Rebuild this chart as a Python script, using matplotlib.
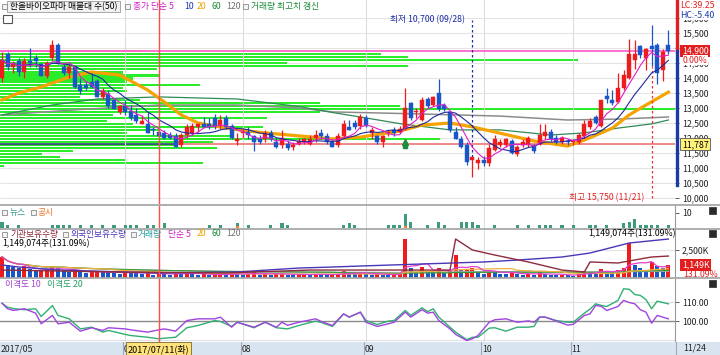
import numpy as np
import pandas as pd
import matplotlib
matplotlib.use('Agg')
import matplotlib.pyplot as plt
from matplotlib.patches import Rectangle
from matplotlib.transforms import blended_transform_factory as btf

plt.rcParams['font.family'] = ['Noto Sans CJK KR', 'DejaVu Sans']

# ---------------- data ----------------
opens = [14000, 14800, 14350, 14550, 14200, 14550, 14650, 14450, 14050, 14650,
         15100, 14350, 14150, 14350, 13750, 13750, 13850, 13900, 13350, 13450,
         13250, 12850, 13050, 12900, 12750, 12450, 12450, 12300, 12200, 12150,
         12100, 12050, 11750, 12100, 12150, 12350, 12450, 12450, 12650, 12400,
         12650, 12400, 11900, 12150, 12200, 12050, 11950, 11950, 12150, 11850,
         11750, 11800, 11700, 11800, 11850, 11800, 12000, 12150, 12050, 11850,
         11750, 12050, 12350, 12500, 12400, 12650, 12150, 12050, 11850, 12150,
         12250, 12200, 12300, 13150, 12850, 12600, 13300, 13100, 13500, 13100,
         12850, 12200, 11950, 11750, 11250, 11150, 11250, 11150, 11600, 11750,
         11750, 11900, 11450, 11750, 11750, 11750, 11800, 12050, 12200, 12000,
         11850, 11900, 11850, 11850, 12050, 12350, 12700, 12400, 13400, 13250,
         13200, 13650, 14000, 14600, 15050, 14650, 15050, 15100, 14250, 15100]
highs = [14850, 14850, 14550, 14650, 14650, 15000, 14750, 14500, 14550, 15250,
         15150, 14450, 14450, 14400, 14000, 13900, 14150, 13950, 13650, 13600,
         13300, 13100, 13250, 13100, 13000, 12750, 12850, 12350, 12400, 12250,
         12200, 12150, 12150, 12450, 12500, 12500, 12700, 12650, 12800, 12750,
         12750, 12450, 12150, 12300, 12350, 12100, 12100, 12250, 12250, 12000,
         12250, 11900, 11850, 12000, 12000, 12100, 12250, 12300, 12150, 11950,
         12150, 12600, 12600, 12600, 12800, 12750, 12350, 12100, 12100, 12250,
         12350, 12400, 13650, 13200, 13000, 13350, 13350, 13400, 13950, 13150,
         12900, 12350, 12050, 11850, 11350, 11350, 11400, 11800, 12100, 11950,
         12000, 11950, 11750, 11950, 12050, 11800, 12450, 12450, 12300, 12100,
         12050, 11950, 11950, 12150, 12600, 12650, 12750, 13250, 13650, 13600,
         14150, 14250, 15300, 15250, 15100, 15000, 15750, 15150, 14950, 15600]
lows = [13850, 14250, 14150, 14050, 14000, 14350, 14350, 14050, 14000, 14600,
        14450, 14100, 14000, 13650, 13450, 13600, 13650, 13350, 13300, 13000,
        12950, 12800, 12750, 12600, 12500, 12450, 12150, 12100, 12000, 11950,
        11950, 11700, 11700, 12000, 12100, 12200, 12350, 12300, 12300, 12300,
        12300, 11950, 11750, 12000, 11950, 11550, 11800, 11850, 11900, 11650,
        11650, 11600, 11600, 11750, 11800, 11750, 11850, 11950, 11800, 11700,
        11700, 12000, 12250, 12300, 12300, 12350, 11950, 11800, 11700, 12050,
        12050, 12150, 12250, 12600, 12650, 12550, 13000, 13050, 12900, 12900,
        12200, 11950, 11650, 11100, 10700, 10950, 11050, 11050, 11550, 11700,
        11700, 11450, 11400, 11700, 11700, 11500, 11750, 11950, 11900, 11800,
        11800, 11750, 11750, 11800, 12000, 12300, 12450, 12350, 13150, 13100,
        13150, 13600, 13950, 14300, 14650, 14250, 14400, 13800, 13900, 14800]
closes = [14600, 14350, 14500, 14200, 14550, 14500, 14550, 14050, 14500, 15100,
          14500, 14150, 14350, 13700, 13550, 13650, 13700, 13350, 13550, 13050,
          12950, 13050, 12850, 12650, 12550, 12550, 12150, 12250, 12050, 12000,
          12000, 11700, 12100, 12350, 12400, 12450, 12350, 12350, 12400, 12600,
          12350, 12000, 11950, 12200, 12100, 11850, 11850, 12150, 11950, 11700,
          12000, 11650, 11750, 11900, 11950, 11950, 12100, 12050, 11850, 11700,
          12050, 12450, 12250, 12350, 12700, 12400, 12250, 11850, 12050, 12200,
          12150, 12300, 13000, 12650, 12900, 13250, 13050, 13350, 12950, 12950,
          12250, 11950, 11700, 11200, 11350, 11250, 11150, 11650, 11950, 11850,
          11950, 11500, 11700, 11850, 12000, 11550, 12100, 12200, 11950, 11850,
          12000, 11850, 11900, 12100, 12450, 12550, 12500, 13250, 13300, 13150,
          13650, 14100, 14800, 14800, 14750, 14950, 14950, 14150, 14850, 14900]
volumes = [1900, 1150, 1000, 900, 1050, 800, 650, 700, 800, 1050,
           900, 600, 550, 700, 650, 450, 500, 600, 550, 500,
           450, 400, 550, 500, 450, 350, 500, 300, 400, 350,
           300, 450, 400, 500, 350, 300, 350, 250, 300, 350,
           300, 450, 400, 300, 350, 550, 300, 400, 300, 350,
           450, 300, 250, 300, 350, 300, 400, 300, 250, 300,
           350, 650, 400, 350, 500, 400, 300, 350, 300, 250,
           300, 350, 3480, 900, 500, 950, 600, 500, 900, 450,
           700, 2050, 700, 800, 900, 500, 400, 700, 600, 400,
           350, 500, 400, 300, 350, 300, 500, 350, 300, 250,
           300, 250, 200, 400, 650, 500, 450, 800, 600, 500,
           750, 900, 3125, 1160, 890, 700, 1430, 1070, 876.55, 1149.074]

# moving averages of close (index, price)
ma20_idx = [0, 3, 7, 12, 16, 21, 23, 26, 29, 32, 35, 41, 47, 53, 59, 64, 71, 75,
            80, 84, 88, 95, 101, 104, 109, 112, 115, 119]
ma20_val = [13270, 13500, 13700, 14030, 14200, 14100, 13900, 13600, 13200, 12770,
            12500, 12300, 12170, 12070, 11970, 12030, 12230, 12430, 12500, 12370,
            12200, 11900, 11730, 11930, 12330, 12770, 13100, 13530]
ma60_idx = [0, 9, 17, 28, 42, 53, 59, 64, 71, 80, 89, 98, 104, 110, 116, 119]
ma60_val = [12770, 13100, 13300, 13370, 13300, 13050, 12850, 12700, 12480, 12270,
            12270, 12100, 12170, 12330, 12470, 12600]
ma120_idx = [0, 14, 28, 42, 53, 59, 75, 89, 101, 110, 119]
ma120_val = [12770, 12950, 13100, 13100, 13000, 12870, 12800, 12730, 12600, 12630, 12700]

# volume-profile (매물대, 50 bins) relative volume per bin, from low to high
profile_vol = [0, 0, 0, 4, 203, 125, 60, 42, 73, 217,
               175, 213, 440, 233, 127, 160, 263, 133, 107, 267,
               113, 320, 675, 400, 320, 140, 80, 110, 127, 123,
               200, 127, 133, 160, 123, 157, 408, 287, 578, 408,
               381, 143, 0, 0, 0, 0, 0, 0, 0, 0]

# news / disclosure counts
news_idx = [0, 1, 3, 9, 10, 11, 12, 14, 16, 18, 20, 22, 23, 24, 26, 27, 29, 37, 39, 42,
            44, 48, 50, 51, 61, 62, 63, 69, 70, 71, 72, 73, 76, 78, 79, 82, 83, 84, 85, 88,
            92, 94, 96, 97, 98, 100, 102, 105, 106, 108, 111, 112, 113, 114, 115, 116, 117, 119]
news_cnt = [4, 2, 2, 2, 2, 2, 2, 2, 2, 2, 2, 2, 2, 2, 2, 2, 3, 2, 2, 2,
            2, 2, 3, 2, 2, 3, 2, 2, 2, 2, 8, 4, 2, 4, 2, 4, 4, 4, 2, 2,
            2, 2, 2, 2, 2, 2, 2, 2, 2, 2, 3, 4, 6, 2, 2, 2, 2, 2]
disc_idx = [42, 72]
disc_cnt = [1, 1]

# holdings (K shares)
foreign_idx = [0, 3, 10, 28, 42, 53, 59, 64, 86, 92, 100, 105, 112, 119]
foreign_k = [1160, 980, 710, 450, 540, 890, 980, 1070, 1430, 1600, 1875, 2230, 3125, 3480]
inst_idx = [0, 20, 40, 55, 64, 80, 81, 84, 88, 94, 100, 104, 105, 110, 114, 116, 119]
inst_k = [710, 540, 450, 710, 710, 710, 3480, 2500, 2050, 1430, 710, 540, 1430, 1340, 1700, 1875, 1960]

# disparity (이격도)
disp_idx = [0, 1, 2, 4, 6, 7, 9, 10, 12, 14, 16, 18, 19, 22, 23, 26, 28, 29, 31, 33,
            35, 38, 39, 41, 42, 45, 47, 49, 50, 51, 53, 56, 57, 59, 61, 62, 64, 65, 67, 69,
            70, 72, 73, 75, 76, 77, 78, 80, 81, 83, 84, 85, 87, 88, 90, 92, 94, 95, 96, 97,
            99, 101, 102, 104, 105, 106, 107, 108, 110, 111, 112, 113, 114, 115, 116, 117, 119]
disp10 = [109.6, 106.7, 105.8, 106.7, 104.4, 98.8, 103.2, 98.8, 99.6, 94.9, 96.7, 95.3, 96.7, 96.1, 95.6, 94.4, 95.6, 96.1, 94.9, 100.5,
          101.4, 101.4, 102.3, 97.0, 99.6, 97.0, 99.6, 97.0, 99.6, 98.0, 99.6, 101.4, 100.0, 97.9, 104.0, 102.3, 104.9, 99.6, 97.4, 98.8,
          99.6, 104.9, 102.3, 106.2, 104.4, 104.9, 100.5, 96.1, 93.2, 90.0, 90.9, 92.6, 99.6, 100.9, 101.4, 99.6, 100.3, 99.6, 102.3, 102.3,
          100.2, 98.1, 98.5, 103.2, 104.0, 108.4, 108.0, 105.8, 107.9, 111.1, 110.0, 109.3, 106.2, 104.9, 99.1, 103.2, 101.4]
disp20 = [109.6, 107.5, 106.8, 106.2, 106.7, 102.6, 108.4, 103.2, 101.4, 96.1, 97.0, 94.4, 95.3, 93.2, 92.6, 91.7, 90.9, 91.2, 91.7, 96.7,
          97.9, 100.5, 100.0, 97.4, 99.6, 96.7, 99.6, 96.7, 96.4, 96.1, 97.9, 100.2, 99.5, 97.4, 104.0, 102.3, 104.9, 100.5, 98.4, 100.2,
          100.5, 105.8, 103.2, 107.2, 105.2, 106.7, 102.3, 97.0, 94.4, 90.4, 91.7, 91.7, 96.5, 96.7, 94.9, 97.0, 97.0, 97.4, 102.3, 102.3,
          100.5, 99.6, 99.6, 104.4, 106.5, 109.3, 108.5, 107.9, 111.1, 117.2, 117.0, 114.2, 113.7, 111.5, 106.7, 110.7, 109.3]

month_idx = [0, 22, 43, 65, 86, 102]
month_lbl = ['2017/05', '07', '08', '09', '10', '11']
cross_idx = 28
cross_date = '2017/07/11(화)'
cross_price = 11787
low_date = '09/28'
high_date = '11/21'
last_date = '11/24'
stock_name = '한올바이오파마'

# ---------------- figure ----------------
o = np.array(opens, float); h = np.array(highs, float)
l = np.array(lows, float); c = np.array(closes, float)
v = np.array(volumes, float)
n = len(c)
x = np.arange(n)

W, H = 720, 355
PW = 675
RED = '#ee1c1c'
BLUE = '#1a56c8'
fig = plt.figure(figsize=(7.2, 3.55), dpi=100, facecolor='white')


def add_ax(y0, y1, x0=0, x1=PW, z=1):
    return fig.add_axes([x0 / W, 1 - y1 / H, (x1 - x0) / W, (y1 - y0) / H], zorder=z)


def ftext(xp, yp, s, color='black', size=6.3, ha='left', va='center', **kw):
    return fig.text(xp / W, 1 - yp / H, s, color=color, fontsize=size, ha=ha, va=va, **kw)


def fbox(xp, yp, w, hgt, fc='white', ec='#888888', lw=0.6, z=5):
    r = Rectangle((xp / W, 1 - (yp + hgt) / H), w / W, hgt / H, transform=fig.transFigure,
                  facecolor=fc, edgecolor=ec, linewidth=lw, zorder=z)
    fig.patches.append(r)
    return r


XL = (-0.36, n + 0.18)


def style(a, ylim, ticks, labels):
    a.set_xlim(*XL)
    a.set_ylim(*ylim)
    a.set_xticks([])
    a.yaxis.tick_right()
    a.set_yticks(ticks)
    a.set_yticklabels(labels)
    a.tick_params(axis='y', length=3, width=0.6, pad=2, labelsize=6.3, colors='#444444',
                  labelcolor='#222222')
    for s in ['top', 'left', 'bottom']:
        a.spines[s].set_visible(False)
    a.spines['right'].set_color('#9a9a9a')
    a.spines['right'].set_linewidth(0.8)
    for m in month_idx[1:]:
        a.axvline(m, color='#dcdcdc', lw=0.8, zorder=0)


PLIM = (9800, 16600)
# profile axes (behind)
axp = add_ax(0, 204, z=0)
axp.set_xlim(0, 675)
axp.set_ylim(*PLIM)
axp.axis('off')
levels = np.arange(10000, 16001, 500)
axp.hlines(levels, 0, 675, color='#e4e4e4', lw=0.8, zorder=0)
edges = np.linspace(l.min(), h.max(), len(profile_vol) + 1)
centers = (edges[:-1] + edges[1:]) / 2
step = edges[1] - edges[0]
cur_bin = int(np.clip(np.searchsorted(edges, c[-1]) - 1, 0, len(profile_vol) - 1))
pcol = ['#ff66cc' if k == cur_bin else '#2bec2b' for k in range(len(profile_vol))]
axp.barh(centers, profile_vol, height=step * 0.7, color=pcol, zorder=1)
cb = int(np.searchsorted(edges, cross_price) - 1)
axp.hlines(cross_price, 0, profile_vol[cb], color='#34407a', lw=1.2, zorder=2)

# price axes
ax = add_ax(0, 204, z=1)
ax.patch.set_visible(False)
style(ax, PLIM, levels, ['' if t == 15000 else f'{t:,}' for t in levels])
ax.spines['right'].set_visible(False)
ax.axhline(c[-1], color='#ff66cc', lw=1.3, zorder=1)
ax.axhline(cross_price, xmin=(profile_vol[cb] / 675), color='#f08080', lw=1.3, zorder=1)

up = c >= o
col = np.where(up, RED, BLUE)
ma5 = pd.Series(c).rolling(5, min_periods=1).mean()
ma10 = pd.Series(c).rolling(10, min_periods=1).mean()
ax.plot(ma120_idx, ma120_val, color='#8c8c8c', lw=1.1, zorder=2)
ax.plot(ma60_idx, ma60_val, color='#2e8b57', lw=0.9, zorder=2)
ax.plot(ma20_idx, ma20_val, color='#f5a300', lw=2.3, zorder=2)
ax.vlines(x, l, h, color=col, lw=0.9, zorder=3)
ax.bar(x, np.maximum(np.abs(c - o), 25), bottom=np.minimum(o, c), width=0.72,
       color=col, edgecolor=col, linewidth=0.3, zorder=4)
ax.plot(x, ma10, color='#1c2a9a', lw=0.8, zorder=5)
ax.plot(x, ma5, color='#e020c8', lw=0.8, zorder=5)

# low / high markers
li = int(np.argmin(l)); hi = int(np.argmax(h))
ax.vlines(li, h[li], 15930, color='#1a2aa8', lw=0.9, linestyles=(0, (2, 2)), zorder=3)
ax.text(li - 1.4, 15930, f'최저 {l[li]:,.0f} ({low_date})', color='#1a2aa8', fontsize=6.3,
        ha='right', va='center', zorder=6)
ax.vlines(hi, 10000, l[hi], color='#ee3030', lw=0.9, linestyles=(0, (2, 2)), zorder=3)
ax.text(hi - 1.4, 10000, f'최고 {h[hi]:,.0f} ({high_date})', color='#e02020', fontsize=6.3,
        ha='right', va='center', zorder=6)
vi = int(np.argmax(v))
ax.plot(vi, l[vi] - 380, marker='^', ms=5, color='#1e8c3c', zorder=6)
ax.plot(vi, l[vi] - 520, marker='s', ms=2.6, color='#1e8c3c', zorder=6)

# right-side price boxes
bt = btf(ax.transAxes, ax.transData)
ax.plot([1.003, 1.003], [c[-1], PLIM[1]], transform=bt, color='#e02020', lw=2.4, clip_on=False, zorder=7)
ax.plot([1.003, 1.003], [10430, c[-1]], transform=bt, color='#1a3aa8', lw=2.4, clip_on=False, zorder=7)
ax.text(1.01, c[-1], f'{c[-1]:,.0f}', transform=bt, color='white', fontsize=6.3, va='center',
        ha='left', clip_on=False, zorder=10,
        bbox=dict(boxstyle='square,pad=0.18', fc='#e41e1e', ec='none'))
ax.annotate('0.00%', xy=(1.012, c[-1]), xycoords=bt, xytext=(0, -6.5), textcoords='offset points',
            color='#e02020', fontsize=6.3, va='center', ha='left', annotation_clip=False, zorder=10,
            bbox=dict(boxstyle='square,pad=0.05', fc='white', ec='none'))
ax.text(1.01, cross_price, f'{cross_price:,}', transform=bt, color='black', fontsize=6.3, va='center',
        ha='left', clip_on=False, zorder=10,
        bbox=dict(boxstyle='square,pad=0.18', fc='#fff27a', ec='#555555', lw=0.6))
lc = (c[-1] / l.min() - 1) * 100
hc = (c[-1] / h.max() - 1) * 100
ftext(680, 5.5, f'LC:{lc:.2f}', color='#e02020', zorder=11)
ftext(680, 15, f'HC:{hc:.2f}', color='#1a3aa8', zorder=11,
      bbox=dict(boxstyle='square,pad=0.05', fc='white', ec='none'))

# separators
for yy in [204.5, 229, 278]:
    fig.add_artist(plt.Line2D([0, 1], [1 - yy / H] * 2, color='#a8a8a8', lw=1.3))

# news panel
axn = add_ax(205, 229)
style(axn, (-0.67, 15.33), [10], ['10'])
axn.bar(disc_idx, disc_cnt, width=0.6, color='#ff7f27', zorder=3)
d_map = dict(zip(disc_idx, disc_cnt))
axn.bar(news_idx, news_cnt, bottom=[d_map.get(i, 0) for i in news_idx], width=0.6,
        color='#3c9c7c', zorder=3)

# volume panel
axv = add_ax(229, 278)
style(axv, (0, 4375), [2500], ['2,500K'])
axv.axhline(2500, color='#e4e4e4', lw=0.8, zorder=0)
vcol = [RED] + [RED if v[i] >= v[i - 1] else BLUE for i in range(1, n)]
axv.bar(x, v, width=0.7, color=vcol, zorder=2)
vs = pd.Series(v)
axv.plot(x, vs.rolling(120, min_periods=1).mean(), color='#a8a8a8', lw=0.9, zorder=3)
axv.plot(x, vs.rolling(60, min_periods=1).mean(), color='#3a9a3a', lw=0.9, zorder=3)
axv.plot(x, vs.rolling(20, min_periods=1).mean(), color='#f0b040', lw=0.9, zorder=3)
axv.plot(x, vs.rolling(5, min_periods=1).mean(), color='#e040d0', lw=0.9, zorder=3)
axv.plot(foreign_idx, foreign_k, color='#4a36b8', lw=1.0, zorder=4)
axv.plot(inst_idx, inst_k, color='#8c2c3c', lw=1.0, zorder=4)
btv = btf(axv.transAxes, axv.transData)
axv.text(1.01, v[-1], f'{v[-1]:,.0f}K', transform=btv, color='white', fontsize=6.3, va='center',
         ha='left', clip_on=False, zorder=10,
         bbox=dict(boxstyle='square,pad=0.15', fc='#e41e1e', ec='none'))
ratio = v[-1] / v[-2] * 100
axv.annotate(f'{ratio:.2f}%', xy=(1.012, v[-1]), xycoords=btv, xytext=(0, -6.5),
             textcoords='offset points', color='#e02020', fontsize=6.3, va='center', ha='left',
             annotation_clip=False, zorder=10)
vol_txt = f'{v[-1] * 1000:,.0f}주({ratio:.2f}%)'

# disparity panel
axi = add_ax(278, 342)
style(axi, (89.2, 122.9), [100, 110], ['100.00', '110.00'])
axi.axhline(110, color='#e0e0e0', lw=0.8, zorder=0)
axi.axhline(90, color='#e0e0e0', lw=0.8, zorder=0)
axi.axhline(100, color='#8a8a8a', lw=1.0, zorder=1)
axi.plot(disp_idx, disp20, color='#2fb070', lw=1.0, zorder=3)
axi.plot(disp_idx, disp10, color='#a044e0', lw=1.0, zorder=3)

# crosshair
for a in [ax, axn, axv, axi]:
    a.axvline(cross_idx, color='#ff4c4c', lw=1.0, zorder=8)

# date band
axd = add_ax(342, 355)
axd.set_xlim(*XL); axd.set_ylim(0, 1)
axd.set_facecolor('#d8e4f0')
axd.set_xticks([]); axd.set_yticks([])
for s in axd.spines.values():
    s.set_visible(False)
for m, lb in zip(month_idx, month_lbl):
    axd.text(m - 0.3, 0.45, lb, fontsize=6.3, color='#222222', ha='left', va='center')
    if m > 0:
        axd.axvline(m - 0.4, color='#a0a8b8', lw=0.8)
axd.text(cross_idx, 0.45, cross_date, fontsize=6.5, color='black', ha='center', va='center', zorder=5,
         bbox=dict(boxstyle='square,pad=0.2', fc='#ffe27a', ec='#7a6a30', lw=0.6))
fbox(675, 342, 45, 13, fc='#d8e4f0', ec='none', z=1)
fig.add_artist(plt.Line2D([676 / W] * 2, [0, 13 / H], color='#a0a8b8', lw=0.8))
ftext(683, 348.5, last_date, color='#222222')


# legends
def sq(xp, yp):
    fbox(xp, yp - 2.5, 5, 5, fc='#f4f4f4', ec='#8a8a8a', lw=0.6, z=6)


sq(2, 6.5)
fbox(7, 1, 113, 11, fc='#f2f2f2', ec='#9a9a9a', lw=0.6, z=5)
ftext(10, 6.5, f'{stock_name} 매물대 수({len(profile_vol)})', zorder=7)
sq(125, 6.5)
ftext(133, 6.5, '종가 단순 5', color='#d020c0')
ftext(184, 6.5, '10', color='#1a3aaa')
ftext(197, 6.5, '20', color='#f0a000')
ftext(211, 6.5, '60', color='#1a8a3a')
ftext(226, 6.5, '120', color='#707070')
sq(243, 6.5)
ftext(251, 6.5, '거래량 최고치 갱신', color='#1a8a3a')
fbox(3, 15, 9, 8, fc='white', ec='#555555', lw=0.8, z=6)
fig.add_artist(plt.Line2D([4.5 / W, 10.5 / W], [1 - 19 / H] * 2, color='#555555', lw=0.6))

sq(2, 212)
ftext(10, 212, '뉴스', color='#3a9a8a')
sq(31, 212)
ftext(38, 212, '공시', color='#f07020')

sq(2, 234)
ftext(10, 234, '기관보유수량', color='#8c2c3c')
sq(63, 234)
ftext(71, 234, '외국인보유수량', color='#4a36b8')
sq(131, 234)
ftext(138, 234, '거래량', color='#2a9a9a')
ftext(168, 234, '단순 5', color='#d020c0')
ftext(197, 234, '20', color='#f0a000')
ftext(211, 234, '60', color='#1a8a3a')
ftext(226, 234, '120', color='#707070')
ftext(2, 244, vol_txt)
ftext(676, 234, vol_txt, ha='right')

ftext(5, 285, '이격도 10', color='#a040d0')
ftext(47, 285, '이격도 20', color='#20a060')

for yp in [207, 230, 280]:
    fbox(709, yp, 7, 7, fc='#2a2a2a', ec='#2a2a2a', lw=0.5, z=6)

fig.savefig('out.png', dpi=100, facecolor='white')
